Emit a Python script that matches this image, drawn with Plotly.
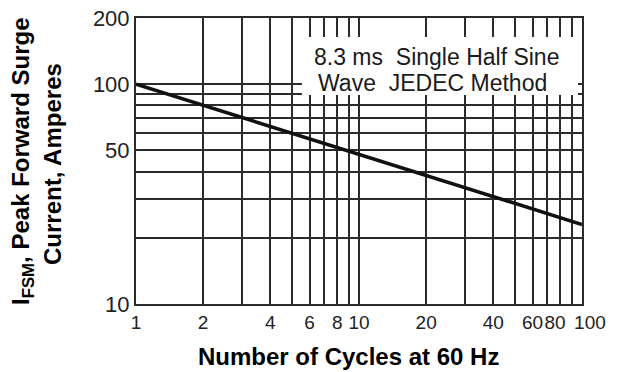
import math
import plotly.graph_objects as go

# Data
cycles = [1, 10, 100]
peak_surge_current = [100, 48, 23]

x_tick_vals = [1, 2, 4, 6, 8, 10, 20, 40, 60, 80, 100]
x_tick_text = ["1", "2", "4", "6", "8", "10", "20", "40", "60",
               "80\u00a0\u00a0", "\u00a0\u00a0\u00a0100"]
x_minor_grid = [3, 5, 7, 9, 30, 50, 70, 90]

y_tick_vals = [10, 50, 100, 200]
y_tick_text = ["10", "50", "100", "200"]
y_minor_grid = [20, 30, 40, 60, 70, 80, 90]

note_line1 = "8.3 ms  Single Half Sine"
note_line2 = "Wave  JEDEC Method"
x_title = "Number of Cycles at 60 Hz"
y_title_1 = "I<sub>FSM</sub>, Peak Forward Surge"
y_title_2 = "Current, Amperes"

GRID = "#2b2b2b"
FAMILY = "Liberation Sans, Arial, sans-serif"
XTICKFONT = dict(family=FAMILY, size=19, color="#222222")
YTICKFONT = dict(family=FAMILY, size=22, color="#222222")
TITLEFONT = dict(family=FAMILY, size=24, color="#000000")
NOTEFONT = dict(family=FAMILY, size=23, color="#1a1a1a")

fig = go.Figure()
fig.add_trace(go.Scatter(
    x=cycles, y=peak_surge_current, mode="lines",
    line=dict(color="#111111", width=3.5), showlegend=False, hoverinfo="skip",
))

fig.update_layout(
    width=620, height=372,
    margin=dict(l=136, r=38, t=18, b=68),
    paper_bgcolor="white", plot_bgcolor="white",
    showlegend=False,
)

fig.update_xaxes(
    type="log", range=[0, 2],
    tickvals=x_tick_vals, ticktext=x_tick_text, tickangle=0,
    showgrid=True, gridcolor=GRID, gridwidth=2,
    minor=dict(tickvals=x_minor_grid, showgrid=True, gridcolor=GRID, gridwidth=2, ticks=""),
    showline=True, mirror=True, linecolor=GRID, linewidth=2,
    ticks="", tickfont=XTICKFONT, zeroline=False, automargin=False,
)
fig.update_yaxes(
    type="log", range=[1, math.log10(200)],
    tickvals=y_tick_vals, ticktext=y_tick_text, tickangle=0,
    showgrid=True, gridcolor=GRID, gridwidth=2,
    minor=dict(tickvals=y_minor_grid, showgrid=True, gridcolor=GRID, gridwidth=2, ticks=""),
    showline=True, mirror=True, linecolor=GRID, linewidth=2,
    ticks="", tickfont=YTICKFONT, zeroline=False, automargin=False,
)

# White note box
fig.add_shape(type="rect", xref="paper", yref="paper",
              x0=0.372, x1=0.991, y0=0.731, y1=0.934,
              fillcolor="white", line=dict(width=0), layer="above")

fig.add_annotation(text=note_line1, xref="paper", yref="paper",
                   x=(312 - 136) / 446, y=(304 - 57) / 286,
                   xanchor="left", yanchor="middle", showarrow=False, font=NOTEFONT)
fig.add_annotation(text=note_line2, xref="paper", yref="paper",
                   x=(316 - 136) / 446, y=(304 - 83) / 286,
                   xanchor="left", yanchor="middle", showarrow=False, font=NOTEFONT)

# Axis titles
fig.add_annotation(text="<b>" + x_title + "</b>", xref="paper", yref="paper",
                   x=(348 - 136) / 446, y=(304 - 356) / 286,
                   xanchor="center", yanchor="middle", showarrow=False, font=TITLEFONT)
fig.add_annotation(text="<b>" + y_title_1 + "</b>", xref="paper", yref="paper",
                   x=(22 - 136) / 446, y=(304 - 161) / 286, textangle=-90,
                   xanchor="center", yanchor="middle", showarrow=False, font=TITLEFONT)
fig.add_annotation(text="<b>" + y_title_2 + "</b>", xref="paper", yref="paper",
                   x=(53 - 136) / 446, y=(304 - 164) / 286, textangle=-90,
                   xanchor="center", yanchor="middle", showarrow=False, font=TITLEFONT)

fig.write_html("out.html",
               config={"displayModeBar": False},
               post_script="document.body.style.margin='0';document.body.style.padding='0';")
